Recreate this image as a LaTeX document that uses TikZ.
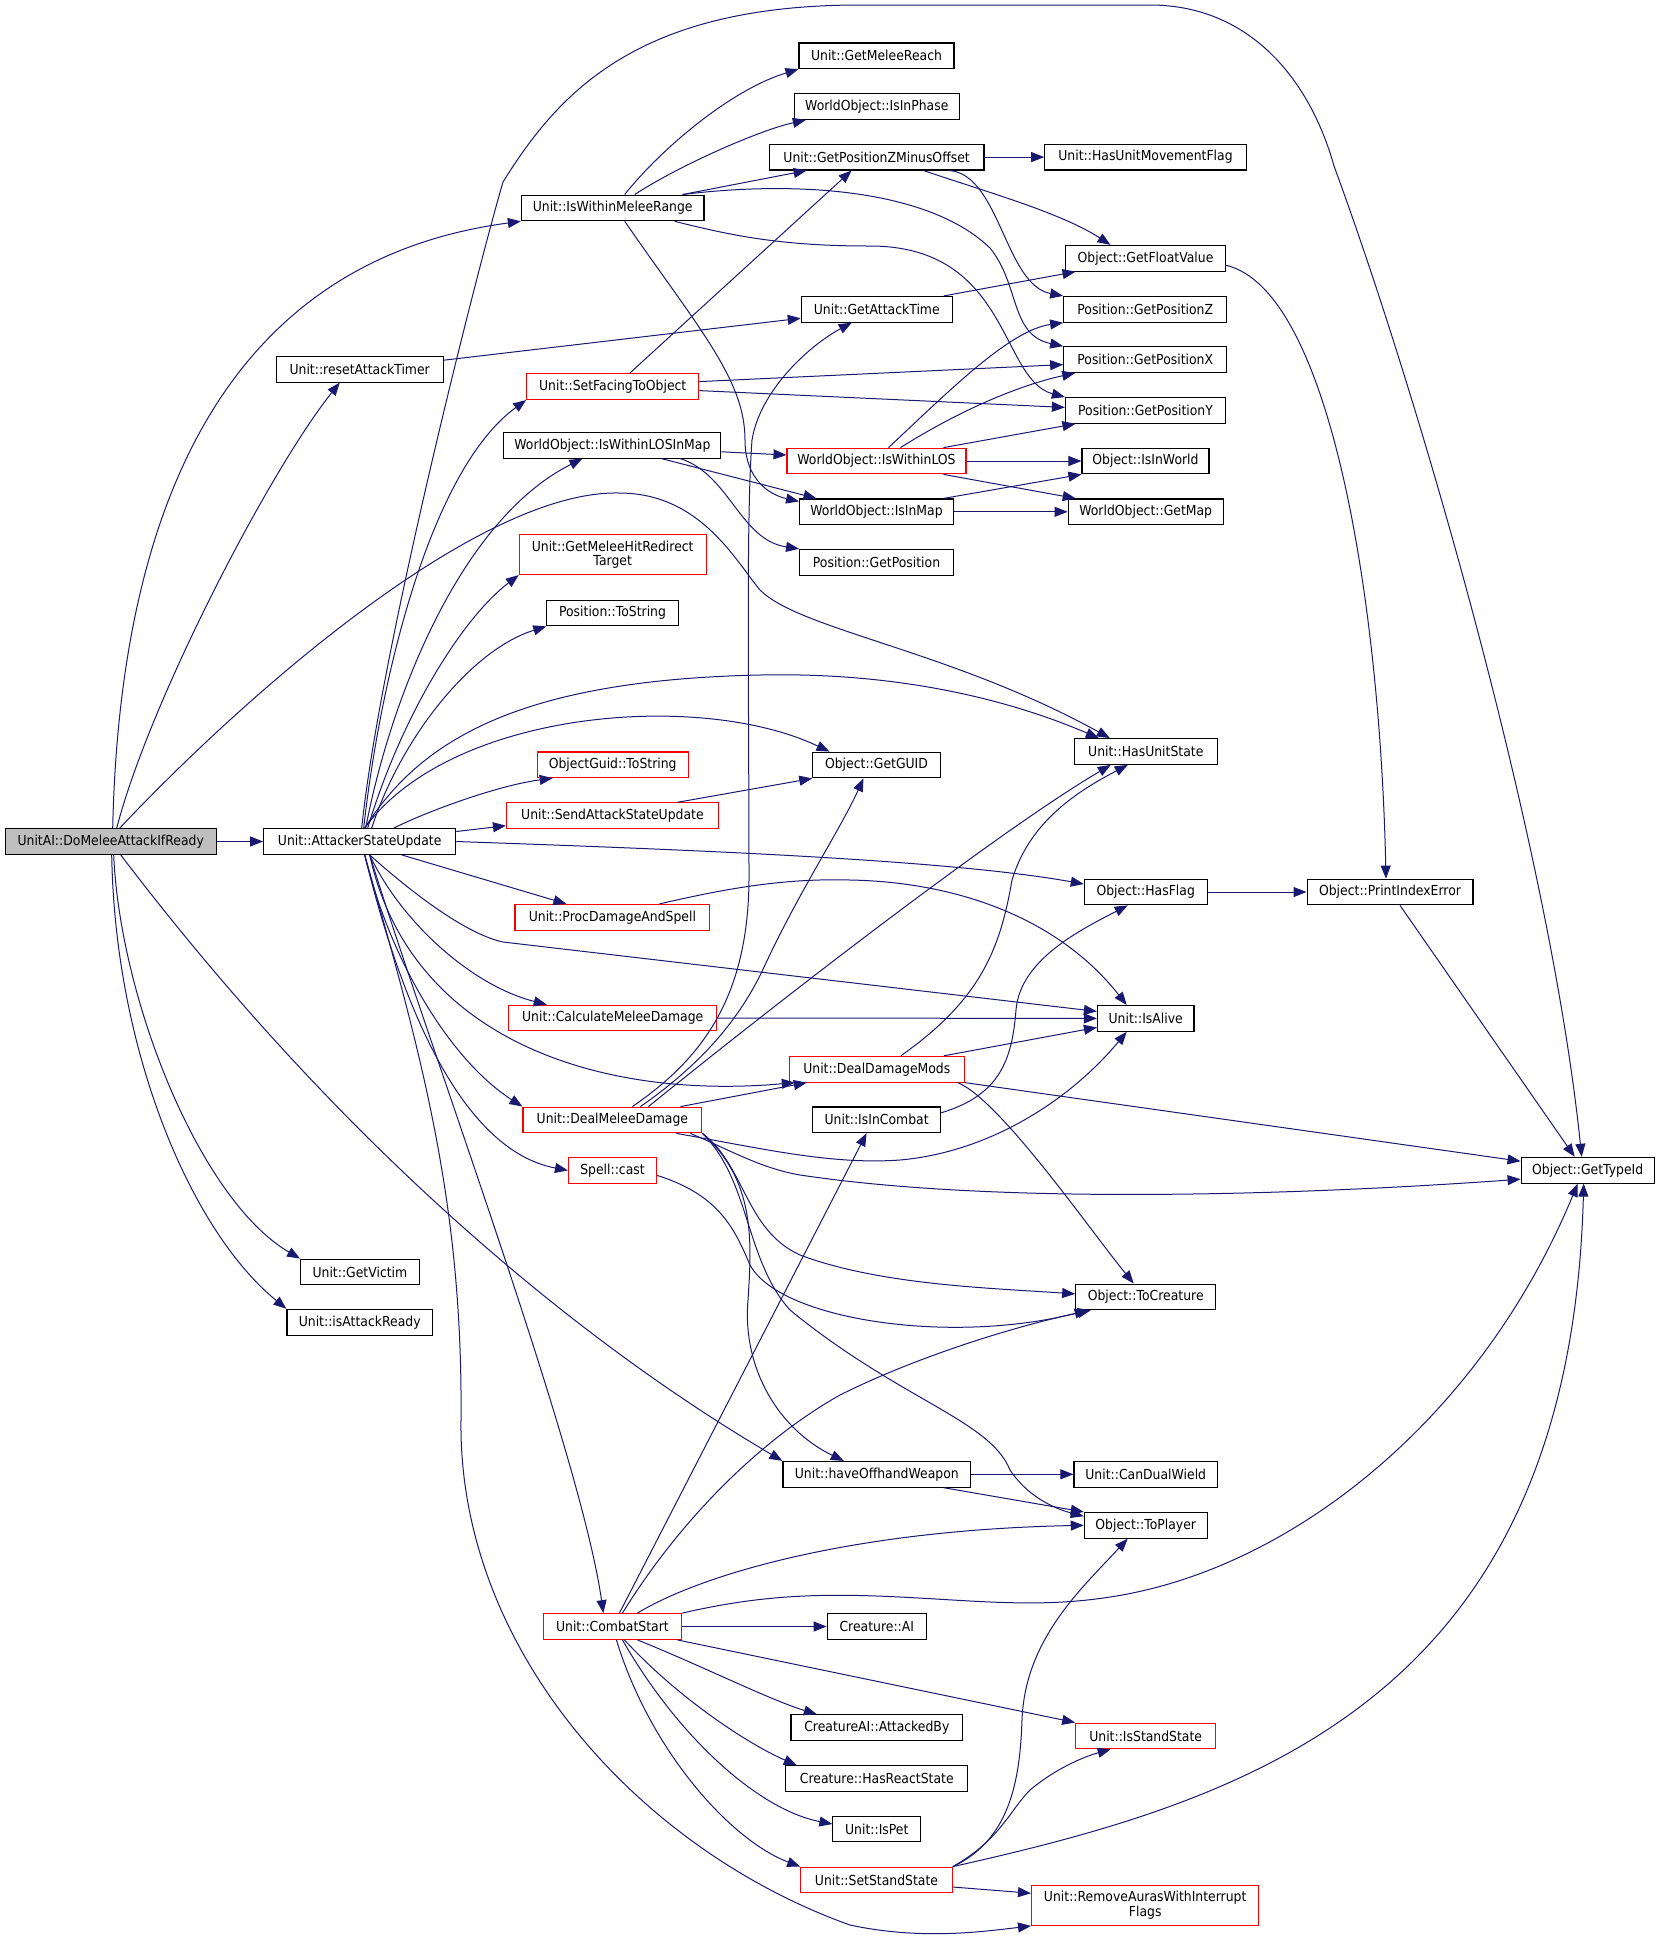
\documentclass[tikz,border=0pt]{standalone}
\usepackage{fontspec}
\setmainfont{DejaVu Sans}[FakeStretch=0.9]
\usetikzlibrary{arrows.meta}
\definecolor{edgec}{HTML}{191970}
\definecolor{rootfill}{HTML}{BFBFBF}
\begin{document}
\begin{tikzpicture}[x=1pt,y=-1pt,
  box/.style={rectangle, draw=black, line width=1.1pt, inner sep=0pt, minimum height=25.7pt, font=\fontsize{13.8}{14.2}\selectfont, fill=white, align=center},
  bb/.style={box},
  rb/.style={box, draw=red},
  rt/.style={box, fill=rootfill},
  e/.style={draw=edgec, line width=1.0pt, -{Triangle[length=13pt,width=10pt]}}]
\useasboundingbox (0,0) rectangle (1659,1939);
% nodes
\node[rt, minimum width=210.7pt] (root) at (110.7,841.5) {UnitAI::DoMeleeAttackIfReady};
\node[bb, minimum width=192pt] (asu) at (359.7,841.5) {Unit::AttackerStateUpdate};
\node[bb, minimum width=118.6pt] (getvictim) at (359.9,1272) {Unit::GetVictim};
\node[bb, minimum width=145.5pt] (isattack) at (359.7,1322.2) {Unit::isAttackReady};
\node[bb, minimum width=166.7pt] (rat) at (359.7,369.2) {Unit::resetAttackTimer};
\node[bb, minimum width=182.6pt] (iwmr) at (612.7,207.9) {Unit::IsWithinMeleeRange};
\node[bb, minimum width=155pt] (gmr) at (876.5,55.8) {Unit::GetMeleeReach};
\node[bb, minimum width=164.8pt] (isinphase) at (876.8,106.6) {WorldObject::IsInPhase};
\node[bb, minimum width=214.7pt] (gpzmo) at (876.6,157.1) {Unit::GetPositionZMinusOffset};
\node[bb, minimum width=201.5pt] (humf) at (1145.5,157.1) {Unit::HasUnitMovementFlag};
\node[bb, minimum width=160.1pt] (gfv) at (1145.5,258.3) {Object::GetFloatValue};
\node[bb, minimum width=151pt] (gat) at (876.8,309.3) {Unit::GetAttackTime};
\node[bb, minimum width=163pt] (gpz) at (1145.2,309.3) {Position::GetPositionZ};
\node[bb, minimum width=163pt] (gpx) at (1145.2,359.6) {Position::GetPositionX};
\node[bb, minimum width=160.1pt] (gpy) at (1145.5,410.4) {Position::GetPositionY};
\node[rb, minimum width=172pt] (sfo) at (612.7,386.6) {Unit::SetFacingToObject};
\node[bb, minimum width=217pt] (iwlim) at (612.4,445.2) {WorldObject::IsWithinLOSInMap};
\node[rb, minimum width=179pt] (iwl) at (876.5,461) {WorldObject::IsWithinLOS};
\node[bb, minimum width=127pt] (isinworld) at (1145.5,461) {Object::IsInWorld};
\node[bb, minimum width=153.8pt] (isinmap) at (876.5,511.8) {WorldObject::IsInMap};
\node[bb, minimum width=155pt] (getmap) at (1145.7,511.8) {WorldObject::GetMap};
\node[bb, minimum width=153.8pt] (getpos) at (876.5,562.2) {Position::GetPosition};
\node[rb, minimum width=186.8pt, minimum height=40.2pt] (gmhrt) at (612.7,554.4) {Unit::GetMeleeHitRedirect\\Target};
\node[bb, minimum width=131.3pt] (tostr) at (612.5,613) {Position::ToString};
\node[rb, minimum width=150.9pt] (ogts) at (612.7,764.8) {ObjectGuid::ToString};
\node[bb, minimum width=127.4pt] (guid) at (876.5,765) {Object::GetGUID};
\node[bb, minimum width=143.5pt] (hus) at (1145.8,751.5) {Unit::HasUnitState};
\node[rb, minimum width=211.8pt] (sasu) at (612.4,815.7) {Unit::SendAttackStateUpdate};
\node[bb, minimum width=122.8pt] (hasflag) at (1145.7,892) {Object::HasFlag};
\node[bb, minimum width=165.9pt] (pie) at (1390,892) {Object::PrintIndexError};
\node[rb, minimum width=194.8pt] (pdas) at (612.4,917.3) {Unit::ProcDamageAndSpell};
\node[rb, minimum width=208pt] (cmd) at (612.7,1018) {Unit::CalculateMeleeDamage};
\node[bb, minimum width=96.5pt] (isalive) at (1145.7,1018.4) {Unit::IsAlive};
\node[rb, minimum width=175pt] (ddm) at (876.8,1069.2) {Unit::DealDamageMods};
\node[rb, minimum width=178.9pt] (dmd) at (612.4,1120) {Unit::DealMeleeDamage};
\node[bb, minimum width=128.2pt] (isincombat) at (876.6,1119.8) {Unit::IsInCombat};
\node[bb, minimum width=133.2pt] (gti) at (1587.7,1170.2) {Object::GetTypeId};
\node[rb, minimum width=88pt] (spell) at (612.5,1170.4) {Spell::cast};
\node[bb, minimum width=140pt] (tocreature) at (1145.7,1296.9) {Object::ToCreature};
\node[bb, minimum width=187.7pt] (how) at (876.8,1474.3) {Unit::haveOffhandWeapon};
\node[bb, minimum width=143.5pt] (cdw) at (1145.7,1474.3) {Unit::CanDualWield};
\node[bb, minimum width=122.8pt] (toplayer) at (1145.7,1525.3) {Object::ToPlayer};
\node[rb, minimum width=138.7pt] (cs) at (612.4,1626.5) {Unit::CombatStart};
\node[bb, minimum width=99.3pt] (ai) at (876.8,1626.5) {Creature::AI};
\node[bb, minimum width=171.6pt] (attackedby) at (876.8,1727.6) {CreatureAI::AttackedBy};
\node[rb, minimum width=140pt] (isstand) at (1145.7,1735.9) {Unit::IsStandState};
\node[bb, minimum width=182pt] (hrs) at (876.8,1778.6) {Creature::HasReactState};
\node[bb, minimum width=87.8pt] (ispet) at (876.8,1829) {Unit::IsPet};
\node[rb, minimum width=151.5pt] (sss) at (876.5,1880) {Unit::SetStandState};
\node[rb, minimum width=227.3pt, minimum height=40.3pt] (ra) at (1145.2,1905.2) {Unit::RemoveAurasWithInterrupt\\Flags};
% root edges
\draw[e] ([xshift=2pt]root.north) .. controls (120,500) and (230,260) .. (iwmr.south west);
\draw[e] ([xshift=6pt]root.north) .. controls (150,700) and (270,470) .. ([xshift=-20pt]rat.south);
\draw[e] ([xshift=9pt]root.north) .. controls (250,690) and (480,490) .. (619,493) .. controls (700,493) and (735,560) .. (760,590) .. controls (800,630) and (950,650) .. ([xshift=-36pt]hus.north);
\draw[e] (root.east) -- (asu.west);
\draw[e] ([xshift=3pt]root.south) .. controls (120,1000) and (200,1200) .. (getvictim.north west);
\draw[e] ([xshift=1pt]root.south) .. controls (115,1050) and (190,1230) .. (isattack.north west);
\draw[e] ([xshift=10pt]root.south) .. controls (330,1130) and (560,1330) .. (how.north west);
% AttackerStateUpdate edges
\draw[e] ([xshift=2pt]asu.north) .. controls (380,650) and (480,260) .. (503,182) .. controls (560,90) and (640,5) .. (860,5) -- (1150,5) .. controls (1250,5) and (1310,80) .. (1334,166) .. controls (1420,400) and (1550,850) .. ([xshift=-6pt]gti.north);
\draw[e] ([xshift=4pt]asu.north) .. controls (380,680) and (430,470) .. (sfo.south west);
\draw[e] ([xshift=6pt]asu.north) .. controls (390,700) and (460,520) .. ([xshift=-30pt]iwlim.south);
\draw[e] ([xshift=8pt]asu.north) .. controls (400,720) and (460,620) .. (gmhrt.south west);
\draw[e] ([xshift=12pt]asu.north) .. controls (400,740) and (470,650) .. (tostr.south west);
\draw[e] ([xshift=5pt]asu.north) .. controls (420,740) and (520,680) .. (760,675) .. controls (900,672) and (1010,700) .. ([xshift=-47pt]hus.north);
\draw[e] ([xshift=5pt]asu.north) .. controls (450,710) and (700,690) .. ([xshift=-47pt]guid.north);
\draw[e] ([xshift=34pt]asu.north) .. controls (430,810) and (500,785) .. ([xshift=-60pt]ogts.south);
\draw[e] ([yshift=10pt]asu.east) -- ([yshift=-10pt]sasu.west);
\draw[e] (asu.east) .. controls (700,850) and (950,860) .. ([yshift=8pt]hasflag.west);
\draw[e] ([xshift=42pt]asu.south) -- ([xshift=-46pt]pdas.north);
\draw[e] ([xshift=10pt]asu.south) .. controls (420,900) and (470,935) .. (503,942) -- ([yshift=7pt]isalive.west);
\draw[e] ([xshift=10pt]asu.south) .. controls (400,920) and (470,985) .. ([xshift=-66pt]cmd.north);
\draw[e] ([xshift=10pt]asu.south) .. controls (410,1040) and (600,1100) .. ([xshift=-82pt]ddm.south);
\draw[e] ([xshift=5pt]asu.south) .. controls (390,960) and (450,1060) .. (dmd.north west);
\draw[e] ([xshift=5pt]asu.south) .. controls (400,1000) and (460,1150) .. (spell.west);
\draw[e] ([xshift=10pt]asu.south) .. controls (430,1050) and (580,1450) .. ([xshift=-9pt]cs.north);
\draw[e] ([xshift=5pt]asu.south) .. controls (420,1050) and (463,1200) .. (461,1420) .. controls (458,1650) and (640,1850) .. (850,1925) .. controls (920,1940) and (980,1932) .. (ra.south west);
% IsWithinMeleeRange edges
\draw[e] ([xshift=12pt]iwmr.north) .. controls (660,150) and (730,90) .. (gmr.south west);
\draw[e] ([xshift=22pt]iwmr.north) .. controls (680,165) and (760,130) .. ([xshift=-71pt]isinphase.south);
\draw[e] ([xshift=70pt]iwmr.north) -- ([xshift=-70pt]gpzmo.south);
\draw[e] ([xshift=70pt]iwmr.north) .. controls (800,180) and (930,190) .. (990,248) .. controls (1020,285) and (1010,335) .. (gpx.north west);
\draw[e] ([xshift=62pt]iwmr.south) .. controls (740,238) and (790,246) .. (870,246) .. controls (1010,246) and (1000,380) .. (gpy.north west);
\draw[e] ([xshift=12pt]iwmr.south) .. controls (700,330) and (745,380) .. (745,440) .. controls (745,480) and (770,495) .. ([yshift=-3pt]isinmap.north west);
% GetPositionZMinusOffset edges
\draw[e] (gpzmo.east) -- (humf.west);
\draw[e] ([xshift=47pt]gpzmo.south) .. controls (980,190) and (1060,212) .. ([xshift=-35pt]gfv.north);
\draw[e] ([xshift=73pt]gpzmo.south) .. controls (1000,175) and (1005,285) .. (gpz.north west);
% SetFacingToObject
\draw[e] ([xshift=17pt]sfo.north) -- ([xshift=-25pt]gpzmo.south);
\draw[e] ([yshift=5pt]sfo.east) -- ([yshift=-5pt]gpx.west);
\draw[e] ([yshift=-4pt]sfo.east) -- ([yshift=3pt]gpy.west);
% resetAttackTimer, GetAttackTime, GetFloatValue
\draw[e] ([yshift=9pt]rat.east) -- ([yshift=-9pt]gat.west);
\draw[e] ([xshift=67pt]gat.north) -- ([xshift=-70pt]gfv.south);
\draw[e] ([yshift=-7pt]gfv.east) .. controls (1330,290) and (1380,600) .. ([xshift=-4pt]pie.north);
% IsWithinLOSInMap
\draw[e] ([yshift=-6.6pt]iwlim.east) -- ([yshift=6pt]iwl.west);
\draw[e] ([xshift=49pt]iwlim.south) -- ([xshift=-60pt]isinmap.north);
\draw[e] ([xshift=68pt]iwlim.south) .. controls (730,475) and (740,540) .. (getpos.north west);
% IsWithinLOS
\draw[e] ([xshift=12pt]iwl.north) .. controls (950,390) and (1010,330) .. (gpz.south west);
\draw[e] ([xshift=24pt]iwl.north) .. controls (960,410) and (1020,385) .. ([xshift=-70pt]gpx.south);
\draw[e] ([xshift=67pt]iwl.north) -- ([xshift=-70pt]gpy.south);
\draw[e] (iwl.east) -- (isinworld.west);
\draw[e] ([xshift=67pt]iwl.south) -- ([xshift=-70pt]getmap.north);
% IsInMap
\draw[e] ([xshift=67pt]isinmap.north) -- (isinworld.south west);
\draw[e] (isinmap.east) -- (getmap.west);
% SendAttackStateUpdate, ProcDamageAndSpell, CalculateMeleeDamage
\draw[e] ([xshift=65pt]sasu.north) -- (guid.south west);
\draw[e] ([xshift=47pt]pdas.north) .. controls (720,890) and (780,878) .. (850,880) .. controls (960,882) and (1060,920) .. ([xshift=-19pt]isalive.north);
\draw[e] (cmd.east) -- (isalive.west);
% DealDamageMods
\draw[e] ([xshift=24pt]ddm.north) .. controls (980,1000) and (1000,950) .. (1012,880) .. controls (1030,820) and (1080,790) .. ([xshift=-18pt]hus.south);
\draw[e] ([xshift=67pt]ddm.north) -- ([yshift=-9pt]isalive.west);
\draw[e] (ddm.south east) -- ([yshift=9pt]gti.west);
\draw[e] ([xshift=81pt]ddm.south) .. controls (1000,1100) and (1090,1230) .. ([xshift=-12pt]tocreature.north);
% IsInCombat, HasFlag, PrintIndexError
\draw[e] ([yshift=7pt]isincombat.east) .. controls (1000,1095) and (1012,1060) .. (1016,1010) .. controls (1020,960) and (1080,930) .. ([xshift=-18pt]hasflag.south);
\draw[e] (hasflag.east) -- (pie.west);
\draw[e] ([xshift=10pt]pie.south) -- ([xshift=-13pt]gti.north);
% DealMeleeDamage
\draw[e] ([xshift=20pt]dmd.north) .. controls (700,1060) and (748,1000) .. (749,880) .. controls (749,700) and (746,520) .. (752,440) .. controls (760,390) and (810,345) .. ([xshift=-25pt]gat.south);
\draw[e] ([xshift=28pt]dmd.north) .. controls (700,1065) and (740,1020) .. (765,965) .. controls (800,890) and (840,830) .. ([xshift=-13pt]guid.south);
\draw[e] ([xshift=36pt]dmd.north) .. controls (780,1000) and (1000,830) .. ([xshift=-35pt]hus.south);
\draw[e] ([xshift=68pt]dmd.north) -- ([xshift=-70pt]ddm.south);
\draw[e] ([xshift=64pt]dmd.south) .. controls (760,1148) and (830,1165) .. (900,1160) .. controls (990,1152) and (1070,1100) .. ([xshift=-19pt]isalive.south);
\draw[e] ([xshift=78pt]dmd.south) .. controls (730,1150) and (760,1168) .. (800,1175) .. controls (1000,1205) and (1300,1195) .. ([yshift=-9pt]gti.west);
\draw[e] (dmd.south east) .. controls (745,1165) and (745,1230) .. (800,1255) .. controls (880,1285) and (990,1288) .. ([yshift=3pt]tocreature.west);
\draw[e] (dmd.south east) .. controls (750,1180) and (745,1260) .. (790,1310) .. controls (900,1400) and (990,1420) .. (1010,1470) .. controls (1030,1500) and (1060,1510) .. ([yshift=9pt]toplayer.west);
\draw[e] (dmd.south east) .. controls (755,1180) and (752,1240) .. (748,1300) .. controls (742,1370) and (780,1430) .. ([xshift=-33pt]how.north);
% Spell::cast
\draw[e] ([yshift=-5pt]spell.east) .. controls (720,1195) and (735,1230) .. (750,1265) .. controls (780,1320) and (950,1345) .. ([xshift=-58pt]tocreature.south);
% haveOffhandWeapon
\draw[e] (how.east) -- (cdw.west);
\draw[e] ([xshift=67pt]how.south) -- (toplayer.north west);
% CombatStart
\draw[e] ([xshift=7pt]cs.north) -- ([xshift=-10pt]isincombat.south);
\draw[e] ([xshift=10pt]cs.north) .. controls (680,1520) and (760,1440) .. (840,1395) .. controls (920,1355) and (1020,1325) .. ([xshift=-55pt]tocreature.south);
\draw[e] ([xshift=25pt]cs.north) .. controls (700,1575) and (850,1530) .. (toplayer.west);
\draw[e] (cs.north east) .. controls (760,1595) and (820,1593) .. (900,1597) .. controls (980,1601) and (1040,1608) .. (1110,1597) .. controls (1290,1570) and (1480,1420) .. ([xshift=-10pt]gti.south);
\draw[e] (cs.east) -- (ai.west);
\draw[e] ([xshift=25pt]cs.south) .. controls (700,1665) and (770,1700) .. ([xshift=-60pt]attackedby.north);
\draw[e] ([xshift=65pt]cs.south) -- (isstand.north west);
\draw[e] ([xshift=12pt]cs.south) .. controls (680,1700) and (750,1745) .. ([xshift=-80pt]hrs.north);
\draw[e] ([xshift=10pt]cs.south) .. controls (680,1740) and (760,1810) .. ([yshift=5pt]ispet.west);
\draw[e] ([xshift=4pt]cs.south) .. controls (650,1750) and (730,1840) .. (sss.north west);
% SetStandState
\draw[e] (sss.north east) .. controls (1010,1840) and (1020,1780) .. (1022,1720) .. controls (1025,1640) and (1080,1590) .. ([xshift=-18pt]toplayer.south);
\draw[e] (sss.north east) .. controls (1000,1840) and (1010,1810) .. (1030,1790) .. controls (1060,1765) and (1090,1755) .. ([xshift=-35pt]isstand.south);
\draw[e] (sss.north east) .. controls (1250,1800) and (1570,1700) .. ([xshift=-4pt]gti.south);
\draw[e] ([yshift=-7pt]sss.east) -- ([yshift=12pt]ra.west);
\end{tikzpicture}
\end{document}
